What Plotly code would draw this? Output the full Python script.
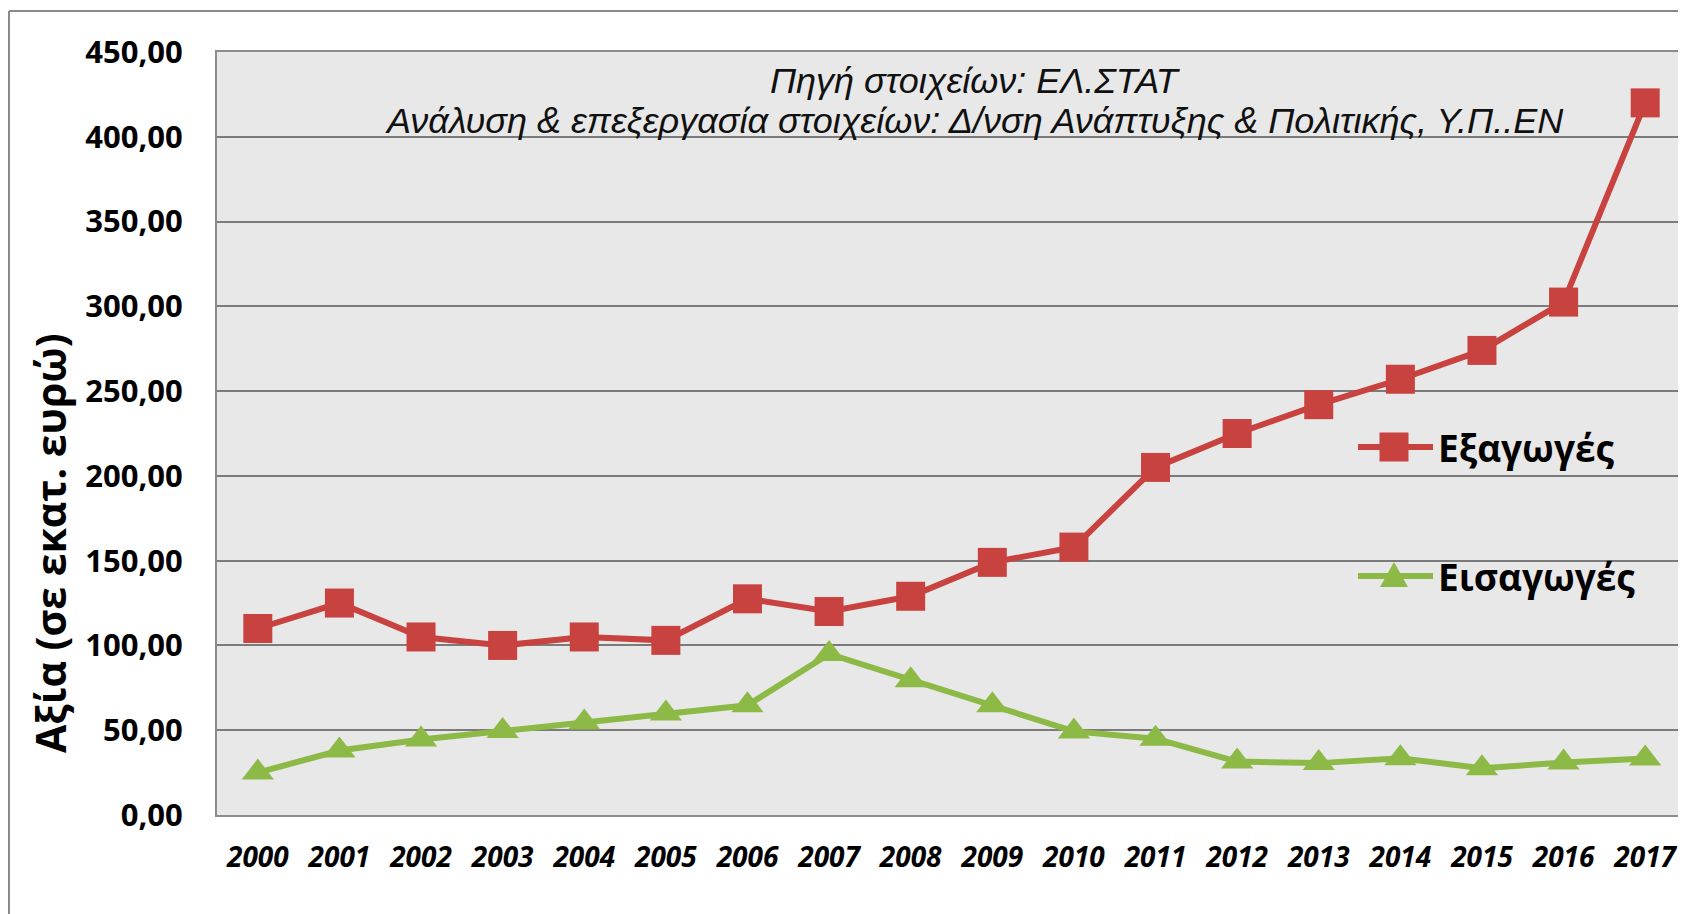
import plotly.graph_objects as go

years = ["2000", "2001", "2002", "2003", "2004", "2005", "2006", "2007", "2008",
         "2009", "2010", "2011", "2012", "2013", "2014", "2015", "2016", "2017"]
exports = [110, 125, 105, 100, 105, 103, 127.5, 120, 129, 149, 158, 205,
           225, 242, 257, 274, 302.5, 420]
imports = [25, 38, 44.5, 49.6, 54.5, 59.8, 64.7, 95, 79.5, 64.7, 49.3, 45,
           31.5, 30.6, 33.5, 27.6, 30.9, 33.3]
y_ticks = [0, 50, 100, 150, 200, 250, 300, 350, 400, 450]
series_names = ["Εξαγωγές", "Εισαγωγές"]

RED = "#C8423F"
GREEN = "#8DB947"
W, H = 1686, 914
OFF = 8  # body margin of the html page
L, R, T, B = 209, 8, 44, 107
PW = W - L - R
PH = H - T - B


def px_x(x):
    return (x - OFF - L) / PW


def px_y(y):
    return (OFF + H - B - y) / PH


fig = go.Figure()
fig.add_trace(go.Scatter(
    x=years, y=exports, name=series_names[0], mode="lines+markers",
    line=dict(color=RED, width=6),
    marker=dict(symbol="square", size=29, color=RED),
    showlegend=False,
))
fig.add_trace(go.Scatter(
    x=years, y=imports, name=series_names[1], mode="lines+markers",
    line=dict(color=GREEN, width=6),
    marker=dict(symbol="triangle-up", size=28, color=GREEN),
    showlegend=False,
))

fig.update_layout(
    width=W, height=H,
    margin=dict(l=L, r=R, t=T, b=B, pad=0),
    paper_bgcolor="white",
    plot_bgcolor="#E8E8E8",
    separators=",.",
    showlegend=False,
    xaxis=dict(
        type="category", range=[-0.5, 17.5],
        showgrid=False, zeroline=False,
        showline=True, linecolor="#8C8C8C", linewidth=2, mirror=True,
        ticks="", ticklabelstandoff=16,
        tickfont=dict(family="Open Sans", size=28, color="black",
                      weight="bold", style="italic"),
    ),
    yaxis=dict(
        range=[0, 450], tickvals=y_ticks, tickformat=".2f",
        showgrid=True, gridcolor="#7B7B7B", gridwidth=2,
        zeroline=False,
        showline=True, linecolor="#8C8C8C", linewidth=2,
        ticks="", ticklabelstandoff=26,
        tickfont=dict(family="Open Sans", size=31, color="black",
                      weight="bold"),
    ),
)

fig.add_annotation(
    text="Αξία (σε εκατ. ευρώ)", textangle=-90,
    xref="paper", yref="paper", x=px_x(50), y=px_y(543),
    xanchor="center", yanchor="middle", showarrow=False,
    font=dict(family="Open Sans", size=41, color="black", weight="bold"),
)
fig.add_annotation(
    text="Πηγή στοιχείων: ΕΛ.ΣΤΑΤ",
    xref="paper", yref="paper", x=px_x(975), y=px_y(80),
    xanchor="center", yanchor="middle", showarrow=False,
    font=dict(family="Liberation Sans", size=36, color="#111111", style="italic"),
)
fig.add_annotation(
    text="Ανάλυση & επεξεργασία στοιχείων: Δ/νση Ανάπτυξης & Πολιτικής, Υ.Π..ΕΝ",
    xref="paper", yref="paper", x=px_x(974), y=px_y(121),
    xanchor="center", yanchor="middle", showarrow=False,
    font=dict(family="Liberation Sans", size=36, color="#111111", style="italic"),
)

# legend drawn by hand (plotly caps legend marker size)
leg_y = [447, 576]
leg_col = [RED, GREEN]
lx0, lx1, mcx, ms = 1358, 1433, 1394, 29
for i in range(2):
    yy = leg_y[i]
    fig.add_shape(type="line", xref="paper", yref="paper",
                  x0=px_x(lx0), x1=px_x(lx1), y0=px_y(yy), y1=px_y(yy),
                  line=dict(color=leg_col[i], width=6))
    if i == 0:
        fig.add_shape(type="rect", xref="paper", yref="paper",
                      x0=px_x(mcx - ms / 2), x1=px_x(mcx + ms / 2),
                      y0=px_y(yy + ms / 2), y1=px_y(yy - ms / 2),
                      fillcolor=leg_col[i], line=dict(width=0))
    else:
        p = "M {a},{b} L {c},{b} L {d},{e} Z".format(
            a=px_x(mcx - 14), b=px_y(yy + 11), c=px_x(mcx + 14),
            d=px_x(mcx), e=px_y(yy - 14))
        fig.add_shape(type="path", xref="paper", yref="paper", path=p,
                      fillcolor=leg_col[i], line=dict(width=0))
    fig.add_annotation(
        text=series_names[i], xref="paper", yref="paper",
        x=px_x(1436), y=px_y(yy), xanchor="left", yanchor="middle",
        showarrow=False,
        font=dict(family="Open Sans", size=37, color="black", weight="bold"),
    )

# outer chart frame (cropped at right and bottom)
fig.add_shape(type="line", xref="paper", yref="paper",
              x0=px_x(9), x1=px_x(9), y0=px_y(H + 20), y1=px_y(11),
              line=dict(color="#8A8A8A", width=2))
fig.add_shape(type="line", xref="paper", yref="paper",
              x0=px_x(9), x1=px_x(W + 20), y0=px_y(11), y1=px_y(11),
              line=dict(color="#8A8A8A", width=2))

fig.write_html("out.html")
